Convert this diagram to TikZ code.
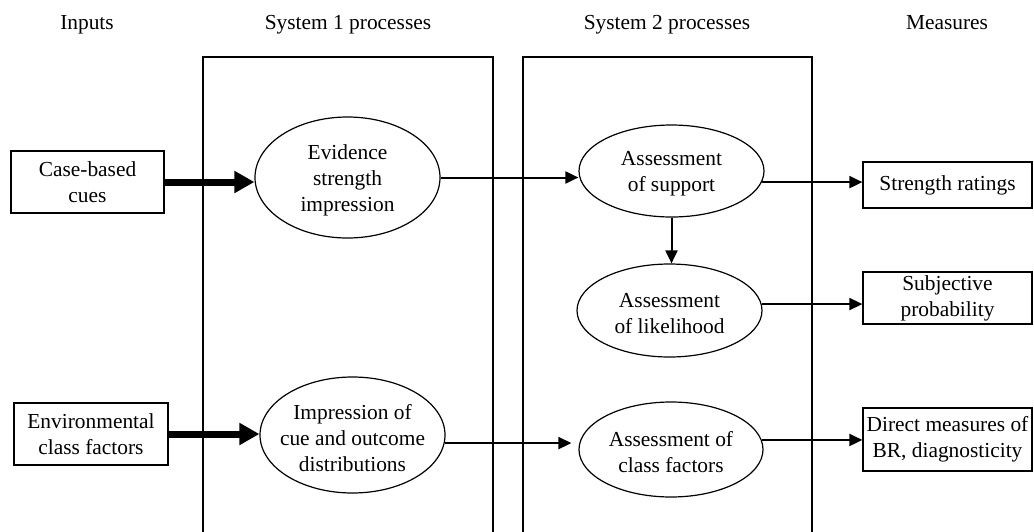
\documentclass[tikz,border=0pt]{standalone}
\usepackage{fontspec}
\setmainfont{Liberation Serif}
\usetikzlibrary{arrows.meta,shapes.geometric}
\begin{document}
\begin{tikzpicture}[x=1pt,y=-1pt,
  txt/.style={font=\fontsize{21.4}{26}\selectfont, align=center, inner sep=0pt},
  etxt/.style={txt, yshift=-3pt},
  hdr/.style={font=\fontsize{21.4}{26}\selectfont, inner sep=0pt, anchor=base},
  ell/.style={draw, ellipse, line width=1.2pt, inner sep=0pt},
  box/.style={draw, rectangle, line width=1.2pt, inner sep=0pt, font=\fontsize{21.4}{26}\selectfont, align=center},
  sysbox/.style={line width=2.7pt},
  arr/.style={line width=2pt, -{Triangle[length=13pt,width=12pt]}},
  bigarr/.style={line width=7pt, -{Triangle[length=20pt,width=21pt]}}]
\useasboundingbox (0,0) rectangle (1034,531);

% headers
\node[hdr] (hin) at (87,29) {Inputs};
\node[hdr] (hs1) at (348,29) {System 1 processes};
\node[hdr] (hs2) at (667,29) {System 2 processes};
\node[hdr] (hme) at (947,29) {Measures};

% system columns
\coordinate (s1bl) at (203,533);
\coordinate (s1tl) at (203,57);
\coordinate (s1tr) at (493,57);
\coordinate (s1br) at (493,533);
\draw[sysbox] (s1bl) -- (s1tl) -- (s1tr) -- (s1br);
\coordinate (s2bl) at (523,533);
\coordinate (s2tl) at (523,57);
\coordinate (s2tr) at (812,57);
\coordinate (s2br) at (812,533);
\draw[sysbox] (s2bl) -- (s2tl) -- (s2tr) -- (s2br);

% input boxes
\node[box, minimum width=153pt, minimum height=62pt] (cues) at (87.5,182) {Case-based\\cues};
\node[box, minimum width=154pt, minimum height=62pt] (env) at (91,434) {Environmental\\class factors};

% ellipses
\node[ell, minimum width=185pt, minimum height=121pt] (ev) at (347.5,177.5) {};
\node[etxt] (evt) at (ev) {Evidence\\strength\\impression};
\node[ell, minimum width=185pt, minimum height=116pt] (imp) at (352.5,435) {};
\node[etxt] (impt) at (imp) {Impression of\\cue and outcome\\distributions};
\node[ell, minimum width=185pt, minimum height=92pt] (sup) at (671.5,171) {};
\node[etxt] (supt) at (sup) {Assessment\\of support};
\node[ell, minimum width=185pt, minimum height=93pt] (lik) at (669.5,310.5) {};
\node[etxt] (likt) at (lik) {Assessment\\of likelihood};
\node[ell, minimum width=184pt, minimum height=95pt] (cls) at (671,449.5) {};
\node[etxt] (clst) at (cls) {Assessment of\\class factors};

% measure boxes
\node[box, minimum width=169pt, minimum height=46pt] (str) at (947.5,185) {Strength ratings};
\node[box, minimum width=169pt, minimum height=52pt] (sub) at (947.5,298) {Subjective\\probability};
\node[box, minimum width=169pt, minimum height=63pt] (dir) at (947.5,439.5) {Direct measures of\\BR, diagnosticity};

% connectors
\draw[bigarr] (cues.east) -- (cues.east -| ev.west);
\draw[bigarr] (env.east) -- (env.east -| imp.west);
\draw[arr] (ev.east) -- (ev.east -| sup.west);
\draw[arr] (sup.-7) -- (sup.-7 -| str.west);
\draw[arr] (sup.south) -- (sup.south |- lik.north);
\draw[arr] (lik.4) -- (lik.4 -| sub.west);
\draw[arr] (imp.-5) -- ([xshift=-7pt]imp.-5 -| cls.west);
\draw[arr] (cls.6) -- (cls.6 -| dir.west);
\end{tikzpicture}
\end{document}
